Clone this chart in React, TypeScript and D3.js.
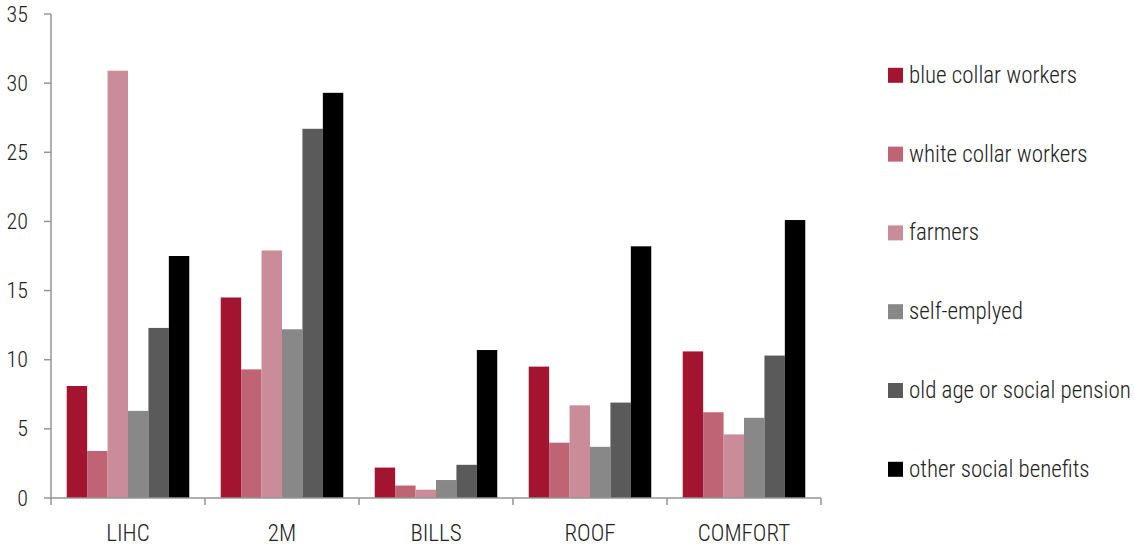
import React from "react";
import * as d3 from "d3";

const categories = ["LIHC", "2M", "BILLS", "ROOF", "COMFORT"];
const seriesNames = [
  "blue collar workers",
  "white collar workers",
  "farmers",
  "self-emplyed",
  "old age or social pension",
  "other social benefits",
];
const seriesColors = ["#A31430", "#BE6475", "#CA8C99", "#888888", "#5A5A5A", "#000000"];
const blueCollar = [8.1, 14.5, 2.2, 9.5, 10.6];
const whiteCollar = [3.4, 9.3, 0.9, 4.0, 6.2];
const farmers = [30.9, 17.9, 0.6, 6.7, 4.6];
const selfEmployed = [6.3, 12.2, 1.3, 3.7, 5.8];
const oldAge = [12.3, 26.7, 2.4, 6.9, 10.3];
const otherBenefits = [17.5, 29.3, 10.7, 18.2, 20.1];
const yTicks = [0, 5, 10, 15, 20, 25, 30, 35];

const seriesValues = [blueCollar, whiteCollar, farmers, selfEmployed, oldAge, otherBenefits];

const FONT = "Roboto, 'Noto Sans', sans-serif";

export default function App() {
  const W = 1134;
  const H = 547;
  const x0 = d3.scaleBand<string>().domain(categories).range([51, 821]).padding(0);
  const x1 = d3
    .scaleBand<string>()
    .domain(seriesNames)
    .range([0, x0.bandwidth()])
    .paddingInner(0)
    .paddingOuter(0.77);
  const y = d3.scaleLinear().domain([0, 35]).range([498, 14]);
  const axisColor = "#959595";
  const textStyle: React.CSSProperties = {
    fontFamily: FONT,
    fontWeight: 300,
    fontStretch: "condensed",
    fill: "#222",
  };
  const legendY = d3
    .scalePoint<string>()
    .domain(seriesNames)
    .range([75.3, 469.3]);

  return (
    <svg
      width={W}
      height={H}
      style={{ position: "absolute", left: 0, top: 0, background: "#fff" }}
    >
      {/* bars */}
      {categories.map((c, ci) => (
        <g key={c} transform={`translate(${x0(c)},0)`}>
          {seriesNames.map((s, si) => {
            const v = seriesValues[si][ci];
            return (
              <rect
                key={s}
                x={x1(s)}
                y={y(v)}
                width={x1.bandwidth()}
                height={y(0) - y(v)}
                fill={seriesColors[si]}
              />
            );
          })}
        </g>
      ))}
      {/* y axis */}
      <line x1={51} x2={51} y1={y(35)} y2={y(0)} stroke={axisColor} strokeWidth={1.5} />
      {yTicks.map((t) => (
        <g key={t}>
          <line x1={44} x2={51} y1={y(t)} y2={y(t)} stroke={axisColor} strokeWidth={1.5} />
          <text
            x={28}
            y={y(t)}
            textAnchor="end"
            dominantBaseline="central"
            fontSize={22}
            style={textStyle}
          >
            {t}
          </text>
        </g>
      ))}
      {/* x axis */}
      <line x1={51} x2={821} y1={y(0)} y2={y(0)} stroke={axisColor} strokeWidth={1.5} />
      {[...categories.map((c) => x0(c) as number), 821].map((tx, i) => (
        <line key={i} x1={tx} x2={tx} y1={y(0)} y2={y(0) + 7} stroke={axisColor} strokeWidth={1.5} />
      ))}
      {categories.map((c) => (
        <text
          key={c}
          x={(x0(c) as number) + x0.bandwidth() / 2}
          y={533}
          textAnchor="middle"
          dominantBaseline="central"
          fontSize={23}
          style={textStyle}
        >
          {c}
        </text>
      ))}
      {/* legend */}
      {seriesNames.map((s, si) => (
        <g key={s} transform={`translate(888,${legendY(s)})`}>
          <rect x={0} y={-7.5} width={15} height={15} fill={seriesColors[si]} />
          <text x={21} y={0} dominantBaseline="central" fontSize={23} style={textStyle}>
            {s}
          </text>
        </g>
      ))}
    </svg>
  );
}
